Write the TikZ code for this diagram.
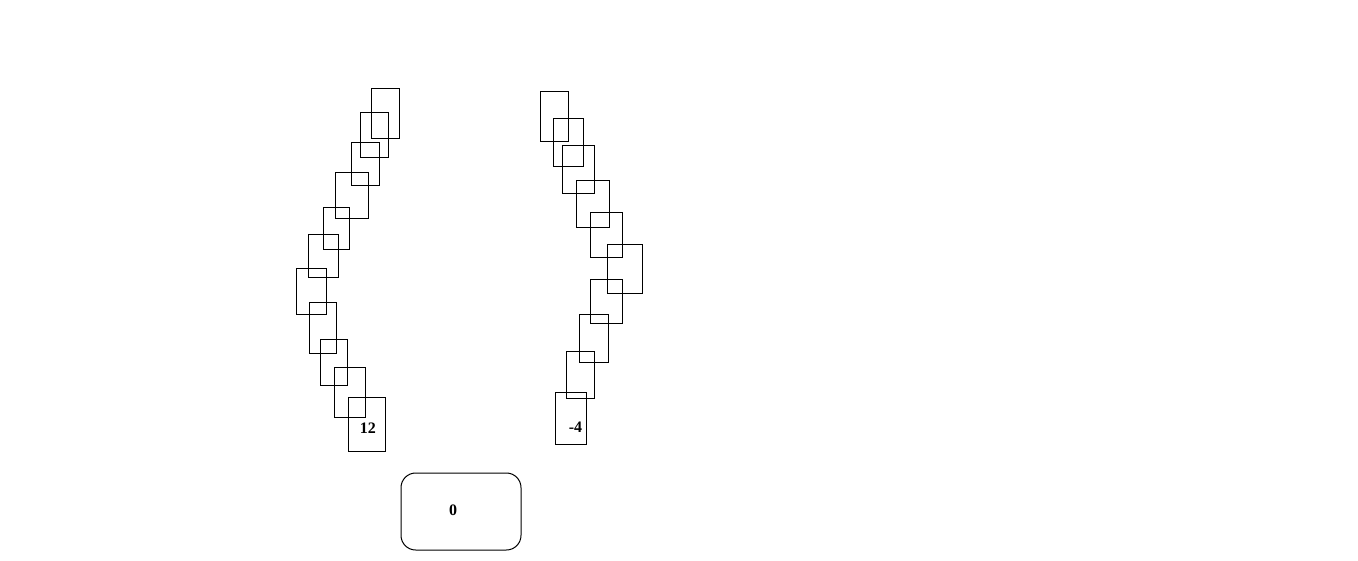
\documentclass[tikz,border=0pt]{standalone}
\usepackage{fontspec}
\setmainfont{Liberation Serif}
\usetikzlibrary{positioning,calc}

\begin{document}
\begin{tikzpicture}[x=0.75pt,y=-0.75pt,
	card/.style={draw, line width=0.75pt, inner sep=0pt},
	pot/.style={draw, line width=0.75pt, inner sep=0pt, rounded corners=11pt},
	score/.style={font=\fontsize{12}{14}\selectfont\bfseries}]
	%Definitions - sizes are given in screen pixels%
	%===========================================================
	\def \px {0.75pt}; %One screen pixel
	\useasboundingbox (0,0) rectangle (1358,560); %Whole screen
	%=============================================================================================================
	%Left pile of cards%
	%=============================================================================================================
	\node[card, minimum width=28*\px, minimum height=50*\px] (left1) at (385,113) {}; %Top card
	\node[card, minimum width=28*\px, minimum height=45*\px] (left2) at (374,134.5) {};
	\node[card, minimum width=28*\px, minimum height=43*\px] (left3) at (365,163.5) {};
	\node[card, minimum width=33*\px, minimum height=46*\px] (left4) at (351.5,195) {};
	\node[card, minimum width=26*\px, minimum height=42*\px] (left5) at (336,228) {};
	\node[card, minimum width=30*\px, minimum height=43*\px] (left6) at (323,255.5) {};
	\node[card, minimum width=30*\px, minimum height=46*\px] (left7) at (311,291) {}; %Leftmost card
	\node[card, minimum width=27*\px, minimum height=51*\px] (left8) at (322.5,327.5) {};
	\node[card, minimum width=27*\px, minimum height=46*\px] (left9) at (333.5,362) {};
	\node[card, minimum width=31*\px, minimum height=50*\px] (left10) at (349.5,392) {};
	\node[card, minimum width=37*\px, minimum height=54*\px,
		label={[score, xshift=1pt, yshift=-2.8pt]center:12}] (left11) at (366.5,424) {}; %Bottom card with score
	%=============================================================================================================
	%Right pile of cards%
	%=============================================================================================================
	\node[card, minimum width=28*\px, minimum height=50*\px] (right1) at (554,116) {}; %Top card
	\node[card, minimum width=30*\px, minimum height=48*\px] (right2) at (568,142) {};
	\node[card, minimum width=32*\px, minimum height=48*\px] (right3) at (578,169) {};
	\node[card, minimum width=33*\px, minimum height=47*\px] (right4) at (592.5,203.5) {};
	\node[card, minimum width=32*\px, minimum height=45*\px] (right5) at (606,234.5) {};
	\node[card, minimum width=35*\px, minimum height=49*\px] (right6) at (624.5,268.5) {}; %Rightmost card
	\node[card, minimum width=32*\px, minimum height=44*\px] (right7) at (606,301) {};
	\node[card, minimum width=29*\px, minimum height=48*\px] (right8) at (593.5,338) {};
	\node[card, minimum width=28*\px, minimum height=47*\px] (right9) at (580,374.5) {};
	\node[card, minimum width=31*\px, minimum height=52*\px,
		label={[score, xshift=3.8pt, yshift=-7pt]center:-4}] (right10) at (570.5,418) {}; %Bottom card with score
	%=============================================================================================================
	%Pot%
	%=============================================================================================================
	\node[pot, minimum width=120*\px, minimum height=77*\px,
		label={[score, xshift=-6pt, yshift=0.8pt]center:0}] (pot) at (461,511.5) {}; %Middle box
\end{tikzpicture}
\end{document}
